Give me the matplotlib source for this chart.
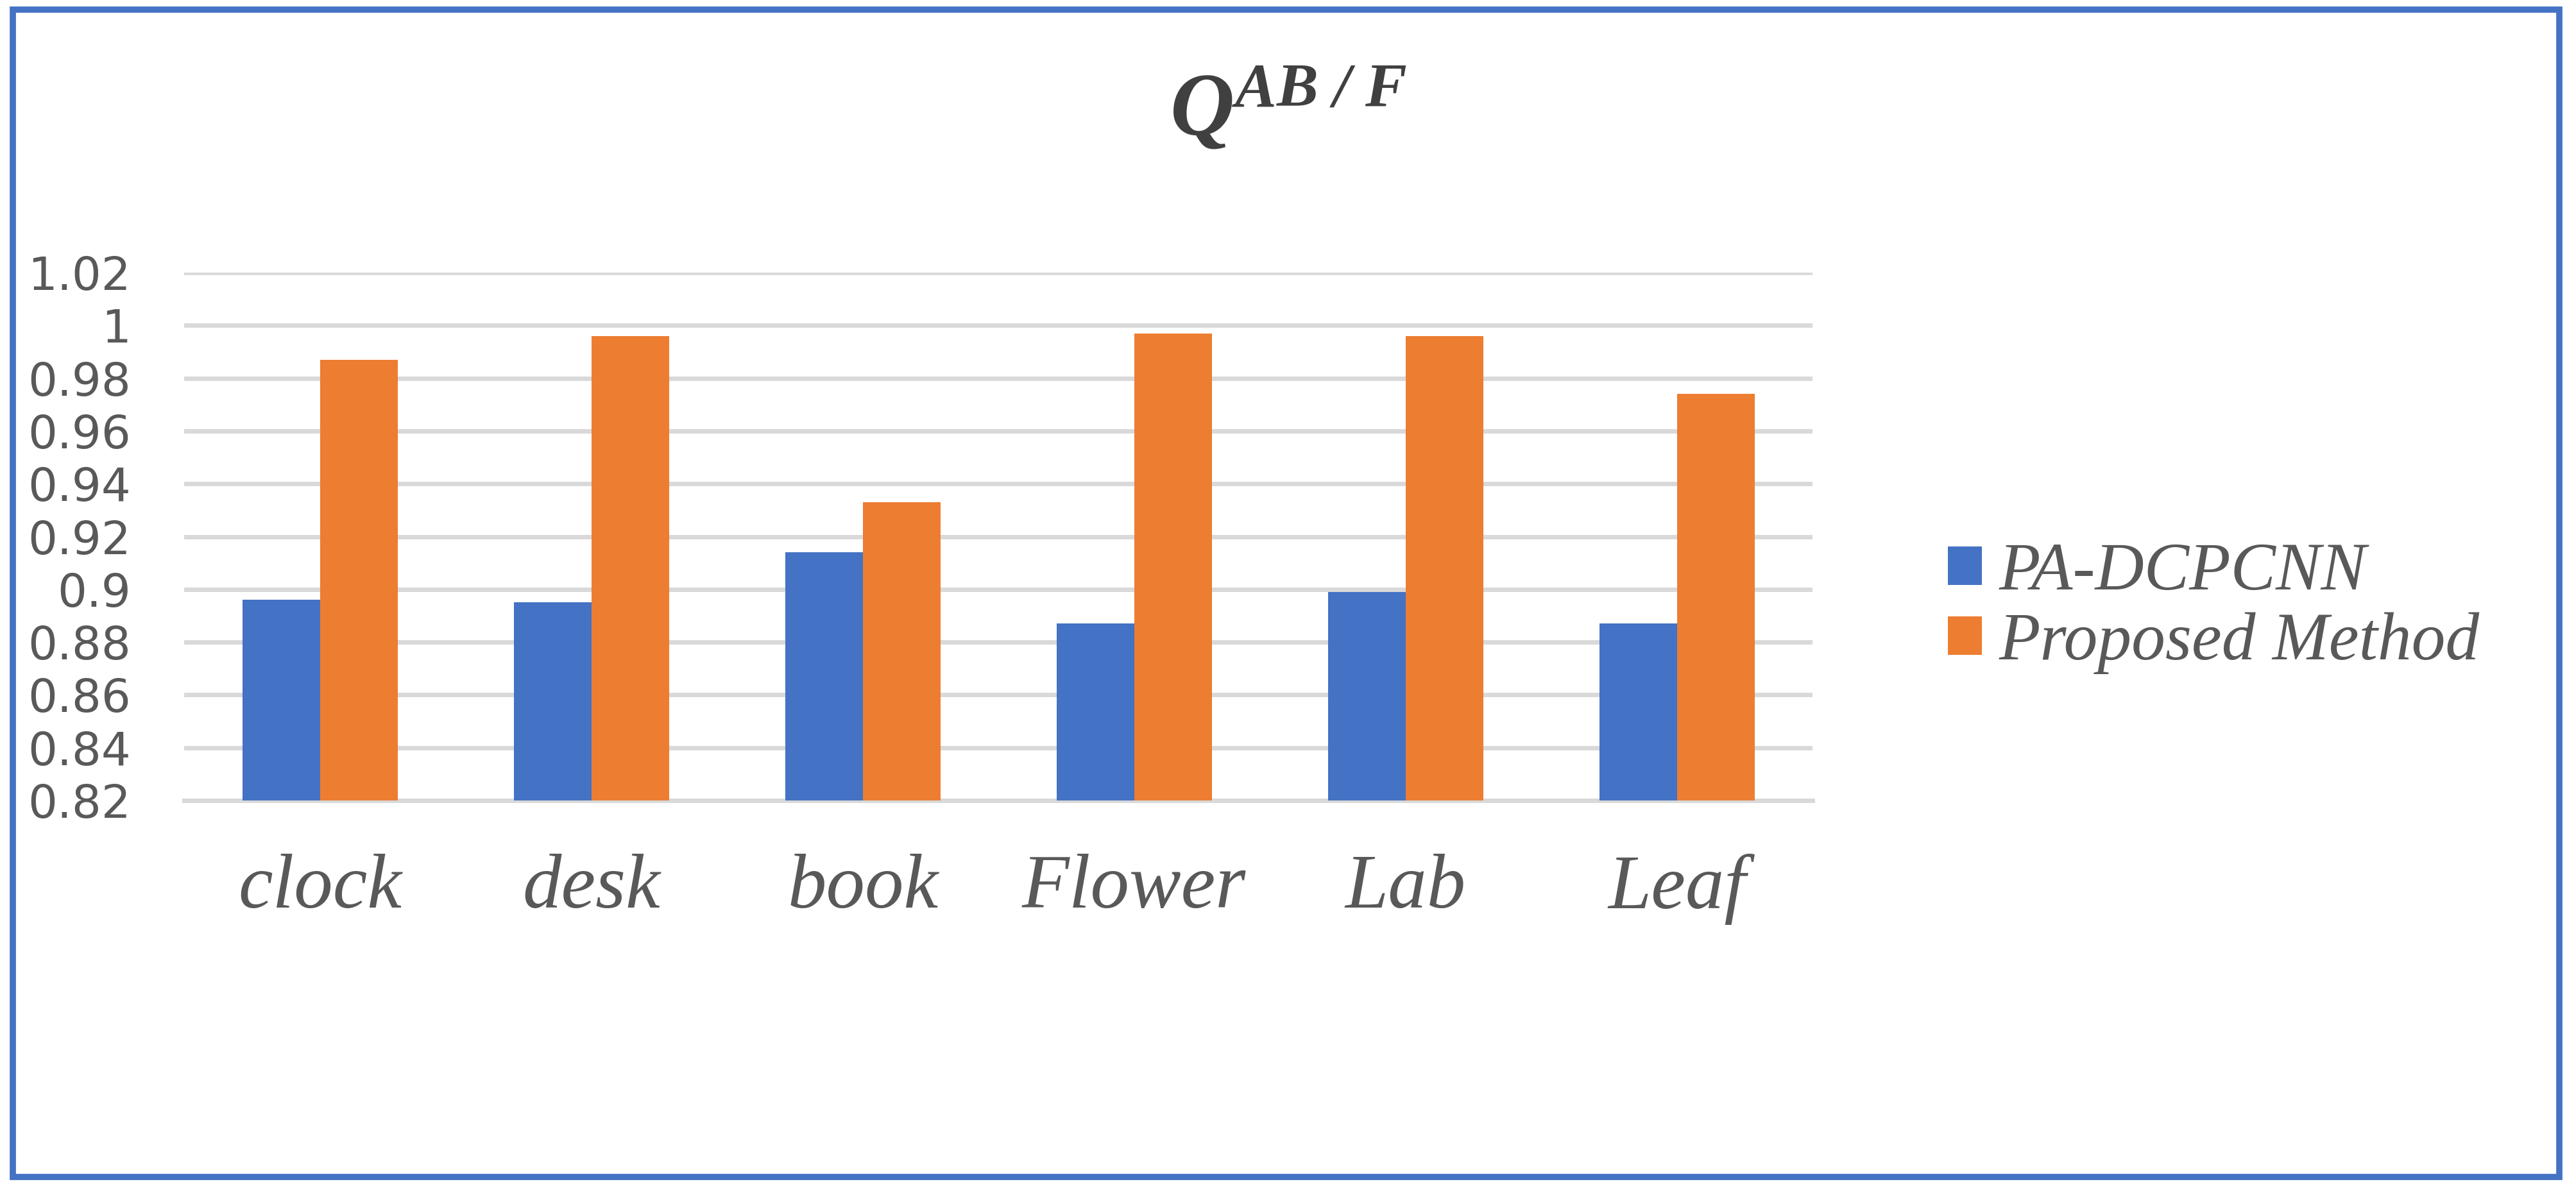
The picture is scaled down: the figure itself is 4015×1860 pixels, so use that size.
"""Grouped bar chart of Q^{AB/F} scores: PA-DCPCNN vs. the proposed method."""

import matplotlib

matplotlib.use("Agg")
import matplotlib.pyplot as plt
import numpy as np
from matplotlib.patches import Rectangle

images = ["clock", "desk", "book", "Flower", "Lab", "Leaf"]
pa_dcpcnn = [0.896, 0.895, 0.914, 0.887, 0.899, 0.887]
proposed = [0.987, 0.996, 0.933, 0.997, 0.996, 0.974]
series_names = ["PA-DCPCNN", "Proposed Method"]
y_ticks = [0.82, 0.84, 0.86, 0.88, 0.9, 0.92, 0.94, 0.96, 0.98, 1.0, 1.02]
y_tick_labels = ["0.82", "0.84", "0.86", "0.88", "0.9", "0.92", "0.94", "0.96", "0.98", "1", "1.02"]

BLUE = "#4472C4"
ORANGE = "#ED7D31"
TEXT_GRAY = "#595959"
GRID_GRAY = "#D9D9D9"
SERIF_ITALIC = {"family": "Liberation Serif", "style": "italic"}

plt.rcParams["mathtext.fontset"] = "custom"
plt.rcParams["mathtext.bf"] = "Liberation Serif:style=italic:weight=bold"
plt.rcParams["mathtext.rm"] = "Liberation Serif:style=italic"
plt.rcParams["mathtext.it"] = "Liberation Serif:style=italic"

fig = plt.figure(figsize=(40.16, 18.6), dpi=100)
ax = fig.add_axes([0.0715, 0.329, 0.632, 0.4425])

x = np.arange(len(images))
bar_w = 0.286
ax.bar(x - bar_w / 2, pa_dcpcnn, bar_w, color=BLUE, label=series_names[0], zorder=3)
ax.bar(x + bar_w / 2, proposed, bar_w, color=ORANGE, label=series_names[1], zorder=3)

ax.set_xlim(-0.5, len(images) - 0.5)
ax.set_ylim(y_ticks[0], y_ticks[-1])
ax.set_yticks(y_ticks)
ax.set_yticklabels(y_tick_labels, fontsize=52, color=TEXT_GRAY, family="DejaVu Sans")
ax.set_xticks(x)
ax.set_xticklabels(images, fontsize=87, color=TEXT_GRAY, **SERIF_ITALIC)
ax.tick_params(axis="both", length=0)
ax.tick_params(axis="y", pad=60)
ax.tick_params(axis="x", pad=60)

ax.grid(axis="y", color=GRID_GRAY, linewidth=5, zorder=0)
for side in ("top", "right", "left"):
    ax.spines[side].set_visible(False)
ax.spines["bottom"].set_color(GRID_GRAY)
ax.spines["bottom"].set_linewidth(5)
ax.spines["bottom"].set_zorder(1)

fig.text(0.5, 0.887, r"$\mathbf{Q^{AB\ /\ F}}$", fontsize=100, color="#404040",
         ha="center", va="baseline")

fig.legend(
    loc="center left",
    bbox_to_anchor=(0.756, 0.49),
    frameon=False,
    borderpad=0,
    borderaxespad=0,
    handlelength=0.5,
    handleheight=0.5,
    handletextpad=0.25,
    labelspacing=0.12,
    prop={"family": "Liberation Serif", "style": "italic", "size": 76},
    labelcolor=TEXT_GRAY,
)

# blue frame around the whole picture
fig.patches.append(Rectangle((20 / 4016, 25 / 1860), 3969 / 4016, 1820 / 1860,
                             transform=fig.transFigure, fill=False,
                             edgecolor=BLUE, linewidth=7))

fig.savefig("out.png", dpi=100, facecolor="white")
